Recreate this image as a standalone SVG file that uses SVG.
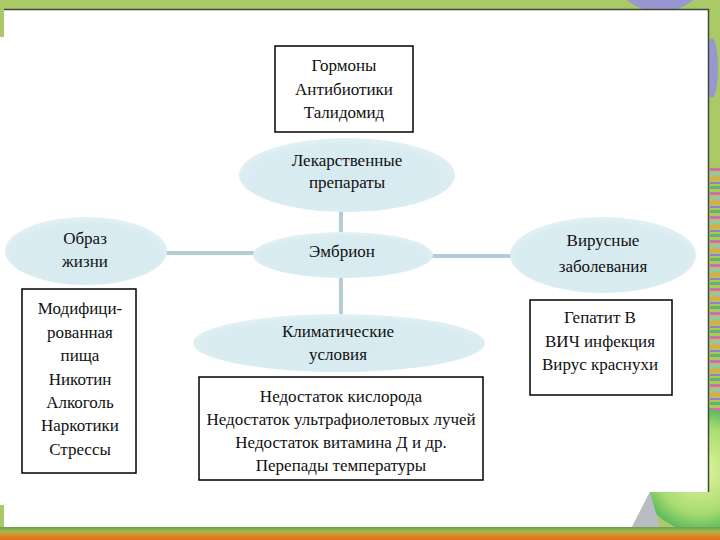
<svg xmlns="http://www.w3.org/2000/svg" width="720" height="540" viewBox="0 0 720 540">
<defs>
<style>
.t{font-family:"Liberation Serif","Times New Roman",serif;font-size:17px;fill:#111;text-anchor:middle}
.box{fill:#fff;stroke:#000;stroke-width:1.5}
.ell{fill:url(#eg)}
.con{stroke:#b3ccd5;stroke-width:4;fill:none}
</style>
<radialGradient id="eg" cx="0.5" cy="0.55" r="0.6">
<stop offset="0" stop-color="#d6eaef"/>
<stop offset="0.75" stop-color="#d9ecf1"/>
<stop offset="1" stop-color="#e8f3f6"/>
</radialGradient>
<linearGradient id="bot" x1="0" y1="0" x2="0" y2="1">
<stop offset="0" stop-color="#6f9e4c"/>
<stop offset="0.35" stop-color="#9dbb4a"/>
<stop offset="0.6" stop-color="#e08a2a"/>
<stop offset="1" stop-color="#d9701c"/>
</linearGradient>
<pattern id="stripes" width="10" height="24" patternUnits="userSpaceOnUse">
<rect width="10" height="24" fill="#a8c95e"/>
<rect y="0" width="10" height="3" fill="#d86ab0"/>
<rect y="5" width="10" height="2" fill="#8fc0e0"/>
<rect y="9" width="10" height="3" fill="#e7a24a"/>
<rect y="14" width="10" height="2" fill="#9c7ac8"/>
<rect y="18" width="10" height="3" fill="#66b06a"/>
</pattern>
<radialGradient id="leaf" cx="0.5" cy="0.5" r="0.5">
<stop offset="0" stop-color="#e6f5a0"/>
<stop offset="0.7" stop-color="#a8dc70"/>
<stop offset="1" stop-color="#5cb860"/>
</radialGradient>
</defs>
<g id="background">
<rect width="720" height="540" fill="#a9ca66"/>
<circle cx="660" cy="-40" r="52" fill="#9a96cf"/>
<ellipse cx="712" cy="68" rx="6" ry="30" fill="#9a96cf"/>
<rect x="710" y="165" width="10" height="335" fill="url(#stripes)"/>
<circle cx="700" cy="470" r="62" fill="url(#leaf)"/>
<path d="M4 9 H708 V492 H650 L632 527 H4 Z" fill="#fff"/>
<rect x="0" y="37" width="6" height="468" fill="#fff"/>
<path d="M4 9.5 H708.5 V492" fill="none" stroke="#3c4a3c" stroke-width="1.5"/>
<path d="M650 492 L632 527 H660 Z" fill="#b9bcc2"/>
<rect x="0" y="527" width="720" height="13" fill="url(#bot)"/>
</g>
<g id="connectors">
<line class="con" x1="341" y1="211" x2="341" y2="233"/>
<line class="con" x1="341" y1="277" x2="341" y2="315"/>
<line class="con" x1="165" y1="253" x2="254" y2="253"/>
<line class="con" x1="432" y1="256" x2="512" y2="256"/>
</g>
<g id="drugs-list">
<rect class="box" x="275" y="46" width="138" height="86"/>
<text class="t" x="344" y="71">Гормоны</text>
<text class="t" x="344" y="95">Антибиотики</text>
<text class="t" x="344" y="118">Талидомид</text>
</g>
<g id="drugs">
<ellipse class="ell" cx="347" cy="175" rx="108" ry="37"/>
<text class="t" x="347" y="166">Лекарственные</text>
<text class="t" x="347" y="188">препараты</text>
</g>
<g id="embryo">
<ellipse class="ell" cx="343" cy="255" rx="90" ry="23"/>
<text class="t" x="342" y="257">Эмбрион</text>
</g>
<g id="lifestyle">
<ellipse class="ell" cx="86" cy="251" rx="81" ry="34"/>
<text class="t" x="85" y="244">Образ</text>
<text class="t" x="85" y="267">жизни</text>
</g>
<g id="lifestyle-list">
<rect class="box" x="22" y="289" width="114" height="184"/>
<text class="t" x="80" y="314">Модифици-</text>
<text class="t" x="80" y="338">рованная</text>
<text class="t" x="80" y="361">пища</text>
<text class="t" x="80" y="385">Никотин</text>
<text class="t" x="80" y="408">Алкоголь</text>
<text class="t" x="80" y="431">Наркотики</text>
<text class="t" x="80" y="455">Стрессы</text>
</g>
<g id="viral">
<ellipse class="ell" cx="603" cy="255" rx="93" ry="38"/>
<text class="t" x="603" y="246">Вирусные</text>
<text class="t" x="603" y="272">заболевания</text>
</g>
<g id="viral-list">
<rect class="box" x="530" y="300" width="142" height="95"/>
<text class="t" x="600" y="323">Гепатит В</text>
<text class="t" x="600" y="347">ВИЧ инфекция</text>
<text class="t" x="600" y="370">Вирус краснухи</text>
</g>
<g id="climate">
<ellipse class="ell" cx="339" cy="343" rx="146" ry="29"/>
<text class="t" x="338" y="337">Климатические</text>
<text class="t" x="338" y="360">условия</text>
</g>
<g id="climate-list">
<rect class="box" x="199" y="377" width="284" height="103"/>
<text class="t" x="341" y="402">Недостаток кислорода</text>
<text class="t" x="341" y="425">Недостаток ультрафиолетовых лучей</text>
<text class="t" x="341" y="448">Недостаток витамина Д и др.</text>
<text class="t" x="341" y="471">Перепады температуры</text>
</g>
</svg>
